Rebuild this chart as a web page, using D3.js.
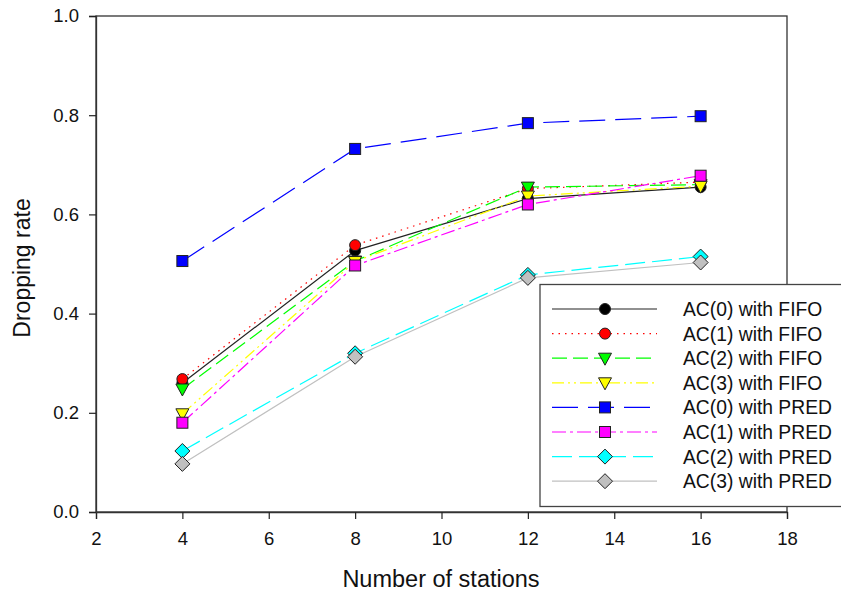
<!DOCTYPE html>
<html><head><meta charset="utf-8">
<script src="https://cdn.jsdelivr.net/npm/d3@7"></script>
<style>body{margin:0;background:#fff}svg{display:block}text{font-family:Arial,"Liberation Sans",sans-serif;fill:#111}</style>
</head><body><svg id="c" width="841" height="597"></svg>
<script>
const stations = [4, 8, 12, 16];
const seriesNames = ["AC(0) with FIFO","AC(1) with FIFO","AC(2) with FIFO","AC(3) with FIFO","AC(0) with PRED","AC(1) with PRED","AC(2) with PRED","AC(3) with PRED"];
const ac0Fifo = [0.260, 0.527, 0.632, 0.655];
const ac1Fifo = [0.268, 0.538, 0.652, 0.665];
const ac2Fifo = [0.248, 0.506, 0.655, 0.660];
const ac3Fifo = [0.198, 0.505, 0.637, 0.657];
const ac0Pred = [0.506, 0.732, 0.784, 0.798];
const ac1Pred = [0.180, 0.497, 0.620, 0.678];
const ac2Pred = [0.123, 0.320, 0.478, 0.515];
const ac3Pred = [0.097, 0.313, 0.472, 0.503];
const xTicks = [2,4,6,8,10,12,14,16,18];
const yTicks = [0.0,0.2,0.4,0.6,0.8,1.0];

const values = [ac0Fifo, ac1Fifo, ac2Fifo, ac3Fifo, ac0Pred, ac1Pred, ac2Pred, ac3Pred];
const styles = [
  {stroke:"#222", fill:"#000", dash:null, shape:"circle"},
  {stroke:"#ff0000", fill:"#ff0000", dash:"1.5,5", shape:"circle"},
  {stroke:"#00ff00", fill:"#00ff00", dash:"15,6", shape:"tri"},
  {stroke:"#ffff00", fill:"#ffff00", dash:"12,4,2,4,2,4", shape:"tri"},
  {stroke:"#0000ff", fill:"#0000ff", dash:"26,10", shape:"square"},
  {stroke:"#ff00ff", fill:"#ff00ff", dash:"14,4,3,4", shape:"square"},
  {stroke:"#00ffff", fill:"#00ffff", dash:"20,7", shape:"diamond"},
  {stroke:"#c0c0c0", fill:"#c0c0c0", dash:null, shape:"diamond"}
];

const svg = d3.select("#c");
const L = 96, R = 787, T = 16, B = 512;
const x = d3.scaleLinear().domain([2,18]).range([L,R]);
const y = d3.scaleLinear().domain([0,1]).range([B,T]);

// frame
svg.append("rect").attr("x",L).attr("y",T).attr("width",R-L).attr("height",B-T)
  .attr("fill","none").attr("stroke","#333").attr("stroke-width",1.3);

const xa = svg.append("g").attr("transform",`translate(0,${B})`)
  .call(d3.axisBottom(x).tickValues(xTicks).tickSize(7).tickPadding(13).tickFormat(d3.format("d")));
const ya = svg.append("g").attr("transform",`translate(${L},0)`)
  .call(d3.axisLeft(y).tickValues(yTicks).tickSize(7).tickPadding(10).tickFormat(d3.format(".1f")));
[xa,ya].forEach(a=>{
  a.select(".domain").attr("stroke","#333").attr("stroke-width",1.3);
  a.selectAll(".tick line").attr("stroke","#222").attr("stroke-width",1.2);
  a.selectAll(".tick text").attr("font-size",18.5).attr("fill","#111").attr("font-family","Arial, Liberation Sans, sans-serif");
});

svg.append("text").attr("x",441).attr("y",587).attr("text-anchor","middle").attr("font-size",23.5).text("Number of stations");
svg.append("text").attr("transform","translate(30,268) rotate(-90)").attr("text-anchor","middle").attr("font-size",23).text("Dropping rate");

function marker(g, shape, cx, cy, fill){
  if(shape==="circle") g.append("circle").attr("cx",cx).attr("cy",cy).attr("r",5.5);
  else if(shape==="square") g.append("rect").attr("x",cx-5.5).attr("y",cy-5.5).attr("width",11).attr("height",11);
  else if(shape==="tri") g.append("path").attr("d",`M${cx-6.5},${cy-5}L${cx+6.5},${cy-5}L${cx},${cy+7}Z`);
  else g.append("path").attr("d",`M${cx},${cy-7.5}L${cx+7.5},${cy}L${cx},${cy+7.5}L${cx-7.5},${cy}Z`);
  g.selectAll("*").attr("fill",fill).attr("stroke","#222").attr("stroke-width",1);
}

const line = d3.line().x((d,i)=>x(stations[i])).y(d=>y(d));
values.forEach((v,k)=>{
  const s = styles[k];
  svg.append("path").datum(v).attr("d",line).attr("fill","none")
    .attr("stroke",s.stroke).attr("stroke-width",1.2).attr("stroke-dasharray",s.dash);
});
values.forEach((v,k)=>{
  const s = styles[k];
  v.forEach((d,i)=>{ marker(svg.append("g"), s.shape, x(stations[i]), y(d), s.fill); });
});

// legend
const lg = svg.append("g");
lg.append("rect").attr("x",540).attr("y",284.5).attr("width",310).attr("height",222)
  .attr("fill","#fff").attr("stroke","#444").attr("stroke-width",1.3);
seriesNames.forEach((n,k)=>{
  const s = styles[k], yy = 309 + k*24.6;
  lg.append("line").attr("x1",552).attr("x2",657).attr("y1",yy).attr("y2",yy)
    .attr("stroke",s.stroke).attr("stroke-width",1.2).attr("stroke-dasharray",s.dash);
  marker(lg.append("g"), s.shape, 605, yy, s.fill);
  lg.append("text").attr("x",683).attr("y",yy+7).attr("font-size",19.3).text(n);
});
</script></body></html>
